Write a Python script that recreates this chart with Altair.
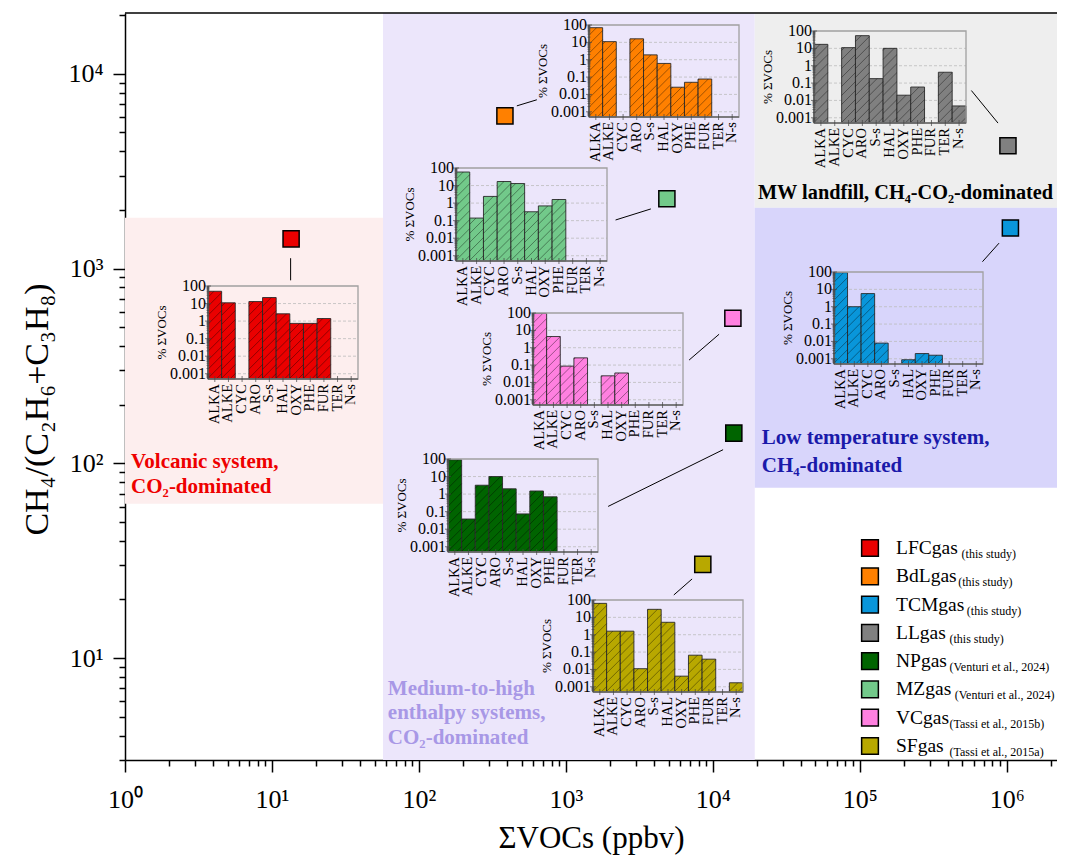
import math
import altair as alt
import pandas as pd

FONT = "Liberation Serif"

# ---------------- main scatter data ----------------
SAMPLES = ["LFCgas", "BdLgas", "TCMgas", "LLgas", "NPgas", "MZgas", "VCgas", "SFgas"]
CITES = ["(this study)", "(this study)", "(this study)", "(this study)",
         "(Venturi et al., 2024)", "(Venturi et al., 2024)",
         "(Tassi et al., 2015b)", "(Tassi et al., 2015a)"]
COLORS = ["#ea0000", "#ff8000", "#0996da", "#808080", "#006400", "#72c98a", "#ff80e0", "#b8a800"]
SUM_VOCS = [13.5, 385, 1.06e6, 1.02e6, 13900, 4870, 13700, 8550]
RATIO = [1420, 6080, 1615, 4270, 143, 2280, 556, 30.3]

# connector lines (marker -> inset), data coordinates
LINE_X1 = [13.4, 464, 684000, 575000, 1940, 2180, 6900, 5430]
LINE_Y1 = [1130, 6840, 1084, 8200, 60.1, 1775, 339, 21.1]
LINE_X2 = [13.4, 635, 887000, 873000, 11750, 3790, 11040, 7230]
LINE_Y2 = [870, 7350, 1350, 5580, 117.5, 2023, 460, 25.5]

W, H = 932, 747
XMIN, XMAX = 1, 2.2e6
YMIN, YMAX = 3, 20500
IMIN, IMAX = 0.0005, 100

# classification regions
REGION_X1 = [1, 57, 19300, 19300]
REGION_X2 = [57, 19300, XMAX, XMAX]
REGION_Y1 = [62, 3, 2050, 75]
REGION_Y2 = [1820, 20500, 20500, 2050]
REGION_FILL = ["#fdeeee", "#ece6fb", "#eeeeee", "#d8d5fb"]

# region annotations
ANNOT_TEXT = ["Volcanic system,", "CO₂-dominated",
              "Medium-to-high", "enthalpy systems,", "CO₂-dominated",
              "MW landfill, CH₄-CO₂-dominated",
              "Low temperature system,", "CH₄-dominated"]
ANNOT_X = [1.1, 1.1, 61.5, 61.5, 61.5, 20300, 21550, 21550]
ANNOT_Y = [102, 76, 6.96, 5.25, 3.90, 2445, 134.5, 96.6]
ANNOT_SIZE = [21, 21, 21, 21, 21, 20.3, 21, 21]
ANNOT_COLOR = ["#ee0000", "#ee0000", "#a898e6", "#a898e6", "#a898e6",
               "#000000", "#1a1aaa", "#1a1aaa"]

# ---------------- inset bar data (% of ΣVOCs) ----------------
CATS = ["ALKA", "ALKE", "CYC", "ARO", "S-s", "HAL", "OXY", "PHE", "FUR", "TER", "N-s"]
N = None
PCT_LFC = [50, 11, N, 13, 22, 2.6, 0.74, 0.74, 1.4, N, N]
PCT_BDL = [70, 11, N, 16, 1.9, 0.61, 0.026, 0.05, 0.077, N, N]
PCT_LL = [17, N, 11, 54, 0.18, 10, 0.02, 0.059, N, 0.42, 0.0048]
PCT_MZ = [59, 0.14, 2.4, 17, 13, 0.32, 0.69, 1.6, N, N, N]
PCT_TCM = [92, 1.0, 5.7, 0.008, N, 0.00088, 0.002, 0.0016, N, N, N]
PCT_VC = [95, 4.4, 0.087, 0.26, N, 0.024, 0.035, N, N, N, N]
PCT_NP = [90, 0.038, 3.2, 10, 2.0, 0.074, 1.5, 0.7, N, N, N]
PCT_SF = [64, 1.6, 1.6, 0.011, 29, 5.2, 0.0041, 0.066, 0.039, N, 0.0017]

INSET_TICKS = [100, 10, 1, 0.1, 0.01, 0.001]
INSET_TICK_LABELS = ["100", "10", "1", "0.1", "0.01", "0.001"]
INSET_GRID = [10, 1, 0.1, 0.01, 0.001]

# inset plot boxes in view pixels: (left, right, bottom, top)
INSETS = [
    ("LFCgas", PCT_LFC, (83, 233, 366, 273)),
    ("BdLgas", PCT_BDL, (464, 614, 104, 12)),
    ("LLgas", PCT_LL, (689, 841, 110, 18)),
    ("MZgas", PCT_MZ, (331, 482, 248, 155)),
    ("TCMgas", PCT_TCM, (709, 858, 351, 259)),
    ("VCgas", PCT_VC, (408, 558, 392, 300)),
    ("NPgas", PCT_NP, (323, 473, 539, 446)),
    ("SFgas", PCT_SF, (468, 618, 679, 587)),
]

SUP = "'10' + ['⁰','¹','²','³','⁴','⁵','⁶','⁷'][round(log(datum.value)/LN10)]"

X_MAJOR = [10 ** e for e in range(0, 7)]
Y_MAJOR = [10 ** e for e in range(1, 5)]
X_MINOR = [k * 10 ** e for e in range(0, 7) for k in range(2, 10) if k * 10 ** e <= XMAX]
Y_MINOR = [k for k in range(3, 10)] + [k * 10 ** e for e in range(1, 5) for k in range(2, 10) if k * 10 ** e <= YMAX]


def major_axis(title, values, orient):
    bottom = orient == "bottom"
    extra = {} if bottom else {"titleY": 396}
    return alt.Axis(
        orient=orient, values=values, labelExpr=SUP, labelOverlap=False, labelFlush=False, grid=False,
        tickSize=12, tickColor="black", tickWidth=1.5, domainColor="black", domainWidth=1.5,
        labelFont=FONT, labelFontSize=26, labelColor="black",
        labelPadding=14 if bottom else 10,
        title=title, titleFont=FONT, titleFontSize=31 if bottom else 34, titleFontWeight="normal",
        titleColor="black", titlePadding=11 if bottom else 13, **extra,
    )


def minor_axis(values, orient):
    return alt.Axis(
        orient=orient, values=values, labels=False, grid=False, domain=False, title=None,
        tickSize=6, tickColor="black", tickWidth=1.5,
    )


xm = alt.Scale(type="log", domain=[XMIN, XMAX], nice=False)
ym = alt.Scale(type="log", domain=[YMIN, YMAX], nice=False)
one = pd.DataFrame({"a": [0]})

regions_df = pd.DataFrame({"x": REGION_X1, "x2": REGION_X2, "y": REGION_Y1, "y2": REGION_Y2, "c": REGION_FILL})
regions = alt.Chart(regions_df).mark_rect().encode(
    x=alt.X("x:Q", scale=xm, axis=None), x2="x2:Q",
    y=alt.Y("y:Q", scale=ym, axis=None), y2="y2:Q",
    color=alt.Color("c:N", scale=None),
)

annot_df = pd.DataFrame({"x": ANNOT_X, "y": ANNOT_Y, "t": ANNOT_TEXT, "c": ANNOT_COLOR, "s": ANNOT_SIZE})
annots = alt.Chart(annot_df).mark_text(
    align="left", baseline="middle", font=FONT, fontWeight="bold"
).encode(
    x=alt.X("x:Q", scale=xm, axis=None), y=alt.Y("y:Q", scale=ym, axis=None),
    text="t:N", color=alt.Color("c:N", scale=None), size=alt.Size("s:Q", scale=None),
)

lines_df = pd.DataFrame({"x": LINE_X1, "y": LINE_Y1, "x2": LINE_X2, "y2": LINE_Y2})
lines = alt.Chart(lines_df).mark_rule(color="black", strokeWidth=1).encode(
    x=alt.X("x:Q", scale=xm, axis=None), x2="x2:Q",
    y=alt.Y("y:Q", scale=ym, axis=None), y2="y2:Q",
)

pts_df = pd.DataFrame({"name": SAMPLES, "x": SUM_VOCS, "y": RATIO})
fill_scale = alt.Scale(domain=SAMPLES, range=COLORS)
markers = alt.Chart(pts_df).mark_square(size=260, filled=True, opacity=1, stroke="black", strokeWidth=1.5).encode(
    x=alt.X("x:Q", scale=xm, axis=major_axis("ΣVOCs (ppbv)", X_MAJOR, "bottom")),
    y=alt.Y("y:Q", scale=ym, axis=major_axis("CH₄/(C₂H₆+C₃H₈)", Y_MAJOR, "left")),
    fill=alt.Fill("name:N", scale=fill_scale, legend=None),
)

minor = alt.Chart(one).mark_point(opacity=0).encode(
    x=alt.XDatum(XMIN, scale=xm, axis=minor_axis(X_MINOR, "bottom")),
    y=alt.YDatum(YMIN, scale=ym, axis=minor_axis(Y_MINOR, "left")),
)

top_border = alt.Chart(one).mark_rule(color="black", strokeWidth=1.5).encode(
    y=alt.YDatum(YMAX, scale=ym, axis=None)
)

main = alt.layer(regions, annots, lines, minor, markers, top_border).resolve_axis(x="independent", y="independent")

MINOR = [k * 10.0 ** e for e in range(-4, 2) for k in range(2, 10) if IMIN < k * 10.0 ** e < IMAX]


def hatch_segments(values, box, spacing=9.0):
    """45-degree '/' hatch segments clipped to each bar, returned in data units."""
    x0, x1, yb, yt = box
    bw = (x1 - x0) / len(CATS)
    dp = (yb - yt) / math.log10(IMAX / IMIN)
    rows = []
    for i, v in enumerate(values):
        if v is None:
            continue
        hpx = math.log10(v / IMIN) * dp
        c = -bw + spacing * 0.6
        while c < hpx:
            xs, xe = max(0.0, -c), min(bw, hpx - c)
            if xe - xs > 0.8:
                rows.append({"x": i + xs / bw, "x2": i + xe / bw,
                             "y": IMIN * 10 ** ((xs + c) / dp), "y2": IMIN * 10 ** ((xe + c) / dp)})
            c += spacing
    return pd.DataFrame(rows)


def inset(name, values, box):
    x0, x1, yb, yt = box
    color = COLORS[SAMPLES.index(name)]
    xs = alt.Scale(domain=[0, 11], range=[x0, x1], nice=False, zero=False)
    ys = alt.Scale(type="log", domain=[IMIN, IMAX], range=[yb, yt], nice=False)

    bars_df = pd.DataFrame({"i": list(range(len(CATS))), "cat": CATS, "v": values}).dropna()
    bars = alt.Chart(bars_df).transform_calculate(i2="datum.i + 1").mark_rect(
        fill=color, stroke="#2a2a2a", strokeWidth=0.9
    ).encode(
        x=alt.X("i:Q", scale=xs, axis=None), x2="i2:Q",
        y=alt.Y("v:Q", scale=ys, axis=None), y2=alt.Y2Datum(IMIN),
    )
    hatch = alt.Chart(hatch_segments(values, box)).mark_rule(
        stroke="#000000", strokeOpacity=0.55, strokeWidth=0.7
    ).encode(
        x=alt.X("x:Q", scale=xs, axis=None), x2="x2:Q",
        y=alt.Y("y:Q", scale=ys, axis=None), y2="y2:Q",
    )
    frame = alt.Chart(one).mark_rect(fillOpacity=0, stroke="#a0a0a0", strokeWidth=1.3).encode(
        x=alt.XDatum(0, scale=xs, axis=None), x2=alt.X2Datum(11),
        y=alt.YDatum(IMIN, scale=ys, axis=None), y2=alt.Y2Datum(IMAX),
    )
    grid = alt.Chart(pd.DataFrame({"t": INSET_GRID})).mark_rule(
        stroke="#bdbdbd", strokeDash=[3, 2], strokeWidth=0.8
    ).encode(
        x=alt.XDatum(0, scale=xs, axis=None), x2=alt.X2Datum(11),
        y=alt.Y("t:Q", scale=ys, axis=None),
    )
    yaxis = alt.Chart(one).mark_rule(color="#444444", strokeWidth=1.2).encode(
        x=alt.XDatum(0, scale=xs, axis=None),
        y=alt.YDatum(IMIN, scale=ys, axis=None), y2=alt.Y2Datum(IMAX),
    )
    xaxis = alt.Chart(one).mark_rule(color="#444444", strokeWidth=1.2).encode(
        x=alt.XDatum(0, scale=xs, axis=None), x2=alt.X2Datum(11),
        y=alt.YDatum(IMIN, scale=ys, axis=None),
    )
    ticks_major = alt.Chart(pd.DataFrame({"t": INSET_TICKS})).mark_tick(
        orient="horizontal", size=6, thickness=1, color="#444444"
    ).encode(x=alt.XDatum(0, scale=xs, axis=None), y=alt.Y("t:Q", scale=ys, axis=None))
    ticks_minor = alt.Chart(pd.DataFrame({"t": MINOR})).mark_tick(
        orient="horizontal", size=3, thickness=1, color="#444444"
    ).encode(x=alt.XDatum(0, scale=xs, axis=None), y=alt.Y("t:Q", scale=ys, axis=None))
    ylabels = alt.Chart(pd.DataFrame({"t": INSET_TICKS, "l": INSET_TICK_LABELS})).mark_text(
        align="right", baseline="middle", font=FONT, fontSize=16, dx=-2, color="black"
    ).encode(x=alt.XDatum(0, scale=xs, axis=None), y=alt.Y("t:Q", scale=ys, axis=None), text="l:N")
    cat_df = pd.DataFrame({"i": list(range(len(CATS))), "cat": CATS})
    xticks = alt.Chart(cat_df).transform_calculate(c="datum.i + 0.5").mark_tick(
        orient="vertical", size=6, thickness=1, color="#444444"
    ).encode(x=alt.X("c:Q", scale=xs, axis=None), y=alt.YDatum(IMIN, scale=ys, axis=None))
    xlabels = alt.Chart(cat_df).transform_calculate(c="datum.i + 0.5").mark_text(
        angle=270, align="right", baseline="middle", font=FONT, fontSize=14.5, dx=-5, color="black"
    ).encode(x=alt.X("c:Q", scale=xs, axis=None), y=alt.YDatum(IMIN, scale=ys, axis=None), text="cat:N")
    ytitle = alt.Chart(one).mark_text(
        angle=270, align="center", baseline="middle", font=FONT, fontSize=13, dy=-46, color="black",
        text="% ΣVOCs",
    ).encode(x=alt.XDatum(0, scale=xs, axis=None), y=alt.YDatum((IMIN * IMAX) ** 0.5, scale=ys, axis=None))
    return alt.layer(grid, bars, hatch, frame, yaxis, xaxis, ticks_major, ticks_minor,
                     ylabels, xticks, xlabels, ytitle)


insets = [inset(n, v, b) for n, v, b in INSETS]

# ---------------- manual legend ----------------
LEG_FS = 19.5
leg_df = pd.DataFrame({"name": SAMPLES, "cite": CITES})
ly = alt.Scale(type="point", domain=SAMPLES, range=[535, 733], padding=0)
leg_sq = alt.Chart(leg_df).mark_square(size=280, filled=True, opacity=1, stroke="black", strokeWidth=1.5).encode(
    x=alt.value(745), y=alt.Y("name:N", scale=ly, axis=None),
    fill=alt.Fill("name:N", scale=fill_scale, legend=None),
)
leg_name = alt.Chart(leg_df).mark_text(align="left", baseline="middle", font=FONT, fontSize=LEG_FS, color="black").encode(
    x=alt.value(771), y=alt.Y("name:N", scale=ly, axis=None), text="name:N",
)
# citation placed after the name: width estimated from upper/lower-case letter counts
leg_cite = alt.Chart(leg_df).transform_calculate(
    up="length(replace(datum.name, regexp('[a-z]', 'g'), ''))",
    mm="length(replace(datum.name, regexp('[^M]', 'g'), ''))",
).transform_calculate(
    cx=f"771 + {LEG_FS} * (0.62 * datum.up + 0.27 * datum.mm + 0.45 * (length(datum.name) - datum.up)) + 3"
).mark_text(align="left", baseline="middle", font=FONT, fontSize=12, dy=6, color="black").encode(
    x=alt.X("cx:Q", scale=None, axis=None), y=alt.Y("name:N", scale=ly, axis=None), text="cite:N",
)
legend = alt.layer(leg_sq, leg_name, leg_cite)

chart = alt.layer(main, *insets, legend).resolve_scale(x="independent", y="independent").properties(
    width=W, height=H,
    autosize=alt.AutoSizeParams(type="none"),
    padding={"left": 117, "top": 5, "right": 0, "bottom": 97},
    background="white",
).configure_view(strokeWidth=0)

chart.save("out.html", embed_options={"renderer": "svg", "actions": False})
